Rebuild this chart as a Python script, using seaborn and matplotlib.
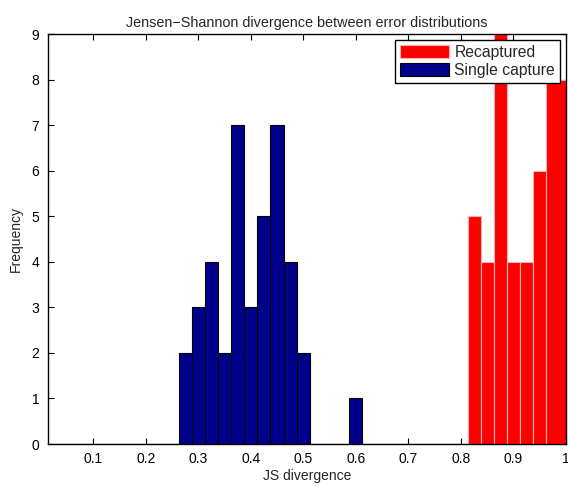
import numpy as np
import matplotlib
matplotlib.use("Agg")
import matplotlib.pyplot as plt
import seaborn as sns

# Bin centers and counts (bin width 0.025)
single_centers = [0.275, 0.300, 0.325, 0.350, 0.375, 0.400, 0.425, 0.450, 0.475, 0.500, 0.600]
single_counts = [2, 3, 4, 2, 7, 3, 5, 7, 4, 2, 1]
recap_centers = [0.825, 0.850, 0.875, 0.900, 0.925, 0.950, 0.9875]
recap_counts = [5, 4, 9, 4, 4, 6, 8]
bin_edges = [0.0125 + 0.025 * i for i in range(41)]
x_ticks = [0.1, 0.2, 0.3, 0.4, 0.5, 0.6, 0.7, 0.8, 0.9, 1.0]
x_tick_labels = ["0.1", "0.2", "0.3", "0.4", "0.5", "0.6", "0.7", "0.8", "0.9", "1"]
y_ticks = list(range(10))

sns.set_style("ticks")
plt.rcParams["font.family"] = ["Liberation Sans", "DejaVu Sans"]

fig = plt.figure(figsize=(5.68, 4.86), dpi=100)
ax = fig.add_axes([0.084, 0.0864, 0.9125, 0.8436])

recap_edges = [0.8125, 0.8375, 0.8625, 0.8875, 0.9125, 0.9375, 0.9625, 1.0125]
sns.histplot(x=recap_centers, weights=recap_counts, bins=recap_edges, ax=ax,
             color="#FF0000", edgecolor="#FFB0B0", linewidth=0.8, alpha=1,
             label="Recaptured")
sns.histplot(x=single_centers, weights=single_counts, bins=bin_edges, ax=ax,
             color="#00008B", edgecolor="black", linewidth=0.8, alpha=1,
             label="Single capture")

ax.set_xlim(0.0135, 1.0)
ax.set_ylim(0, 9)
ax.set_xticks(x_ticks)
ax.set_xticklabels(x_tick_labels)
ax.set_yticks(y_ticks)
ax.tick_params(direction="in", length=4, width=0.8, labelsize=10, colors="black",
               top=True, right=True, pad=6)
for s in ax.spines.values():
    s.set_visible(True)
    s.set_color("black")
    s.set_linewidth(1.0)
ax.set_xlabel("JS divergence", fontsize=10, labelpad=2)
ax.set_ylabel("Frequency", fontsize=10, labelpad=6)
ax.set_title("Jensen\u2212Shannon divergence between error distributions", fontsize=10.4, pad=5)

leg = ax.legend(loc="upper right", fontsize=11.3, frameon=True, fancybox=False,
                edgecolor="black", framealpha=1, borderpad=0.3, labelspacing=0.2,
                handlelength=3.1, handleheight=0.9, handletextpad=0.35,
                borderaxespad=0.4)
leg.get_frame().set_linewidth(1.0)

fig.savefig("out.png", dpi=100)
